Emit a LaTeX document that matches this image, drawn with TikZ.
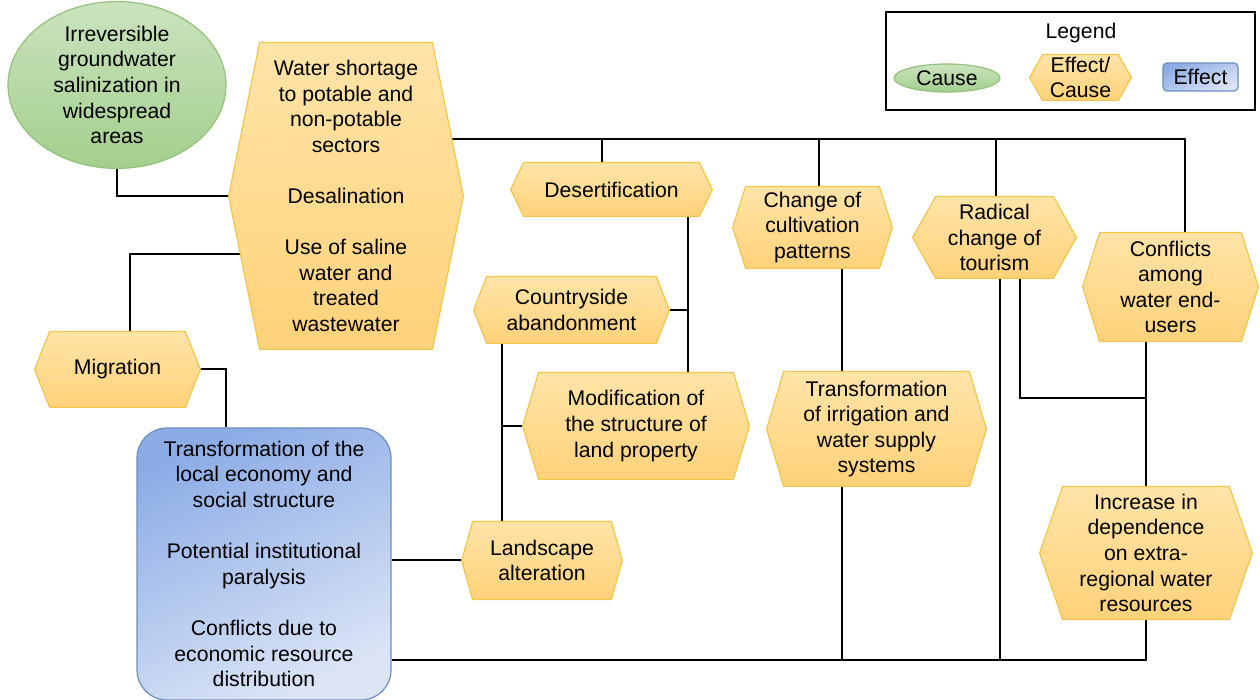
\documentclass[tikz,border=0pt]{standalone}
\usepackage{fontspec}
\setmainfont{Liberation Sans}
\usetikzlibrary{calc, shapes.geometric, backgrounds}

\definecolor{hexT}{HTML}{FFE4A8}
\definecolor{hexB}{HTML}{FFD27A}
\definecolor{hexline}{HTML}{F2C54A}
\definecolor{grnT}{HTML}{CBE3BF}
\definecolor{grnB}{HTML}{A3CF8C}
\definecolor{grnline}{HTML}{93C17A}
\definecolor{bluT}{HTML}{8CACE6}
\definecolor{bluB}{HTML}{DCE5F6}
\definecolor{bluline}{HTML}{6C8EBF}

\tikzset{
  link/.style={draw=black, line width=1pt},
  sz/.style 2 args={minimum width=#1*0.5pt, minimum height=#2*0.5pt},
  hexa/.style={align=center, inner sep=0pt},
  hexfill/.style={draw=hexline, line width=0.6pt, top color=hexT, bottom color=hexB},
  cause/.style={ellipse, draw=grnline, line width=0.6pt, top color=grnT, bottom color=grnB, align=center, inner sep=0pt},
  effect/.style={rectangle, draw=bluline, line width=0.6pt, top color=bluT, bottom color=bluB, shading angle=25, align=center, inner sep=0pt}
}

\begin{document}
\begin{tikzpicture}[x=0.5pt, y=-0.5pt, font=\fontsize{10.6}{12.8}\selectfont]
  \useasboundingbox (0,0) rectangle (1260,700);

  % causes and effects
  \node[cause, sz={218}{156}] (salin) at (117,85) {Irreversible\\groundwater\\salinization in\\widespread\\areas};
  \node[hexa, sz={234}{306}] (water) at (346,196) {Water shortage\\to potable and\\non-potable\\sectors\\[12.8pt]Desalination\\[12.8pt]Use of saline\\water and\\treated\\wastewater};
  \node[hexa, sz={165}{75}] (migr) at (117.5,369.5) {Migration};
  \node[effect, rounded corners=15pt, sz={254}{272}] (blue) at (264,564) {Transformation of the\\local economy and\\social structure\\[12.8pt]Potential institutional\\paralysis\\[12.8pt]Conflicts due to\\economic resource\\distribution};
  \node[hexa, sz={201}{53}] (desert) at (611.5,189.5) {Desertification};
  \node[hexa, sz={195}{66}] (country) at (571.5,310) {Countryside\\abandonment};
  \node[hexa, sz={226}{106}] (modif) at (636,426) {Modification of\\the structure of\\land property};
  \node[hexa, sz={160}{77}] (landsc) at (542,560.5) {Landscape\\alteration};
  \node[hexa, sz={159}{81}] (cultiv) at (812.5,227.5) {Change of\\cultivation\\patterns};
  \node[hexa, sz={219}{114}] (irrig) at (876.5,429) {Transformation\\of irrigation and\\water supply\\systems};
  \node[hexa, sz={163}{81}] (tourism) at (994.5,237.5) {Radical\\change of\\tourism};
  \node[hexa, sz={175}{108}] (confl) at (1170.5,287) {Conflicts\\among\\water end-\\users};
  \node[hexa, sz={212}{132}] (incr) at (1146,553) {Increase in\\dependence\\on extra-\\regional water\\resources};

  % legend
  \node[draw, line width=1pt, sz={369}{98}] (legend) at (1070.5,61) {};
  \node (legtitle) at (1081,33) {Legend};
  \node[cause, sz={106}{28}] (legcause) at (947,78) {Cause};
  \node[hexa, sz={101}{45}] (leghex) at (1080.5,77.5) {Effect/\\Cause};
  \node[effect, rounded corners=2pt, sz={75}{28}] (legeff) at (1200.5,77) {Effect};

  \begin{scope}[on background layer]
    \draw[link] (salin.south) |- (water.west);
    \draw[link] ($(water.west)+(20,58)$) -| ($(migr.north)+(12.5,0)$);
    \draw[link] (migr.east) -| ($(blue.north)+(-38,0)$);
    % upper bus
    \draw[link] ($(water.east)+(-20,-57)$) -| ($(confl.north)+(14.5,0)$);
    \draw[link] ($(desert.north)+(-9.5,0)$) -- ++(0,-24);
    \draw[link] ($(cultiv.north)+(6.5,0)$) -- ++(0,-48);
    \draw[link] ($(tourism.north)+(1.5,0)$) -- ++(0,-58);
    \draw[link] ($(desert.south)+(76.5,0)$) -- ($(modif.north)+(52,0)$);
    \draw[link] (country.east) -- ++(19,0);
    \draw[link] ($(country.south)+(-69.5,0)$) -- ($(landsc.north)+(-40,0)$);
    \draw[link] (modif.west) -- ++(-21,0);
    \draw[link] (landsc.west) -- (landsc.west -| blue.east);
    % lower bus
    \draw[link] ($(blue.east)+(0,96)$) -| (incr.south);
    \draw[link] ($(cultiv.south)+(29.5,0)$) -- ++(0,392);
    \draw[link] ($(tourism.south)+(5.5,0)$) -- ++(0,382);
    \draw[link] ($(tourism.south)+(25.5,0)$) |- ($(confl.south)+(-24.5,57)$);
    \draw[link] ($(confl.south)+(-24.5,0)$) -- (incr.north);

    \foreach \n/\d in {water/31, migr/15, desert/13, country/13, modif/16, landsc/11,
                       cultiv/13, irrig/17, tourism/23, confl/17, incr/23, leghex/13}
      \draw[hexfill] (\n.west) -- ($(\n.north west)+(\d,0)$) -- ($(\n.north east)+(-\d,0)$)
        -- (\n.east) -- ($(\n.south east)+(-\d,0)$) -- ($(\n.south west)+(\d,0)$) -- cycle;
  \end{scope}
\end{tikzpicture}
\end{document}
